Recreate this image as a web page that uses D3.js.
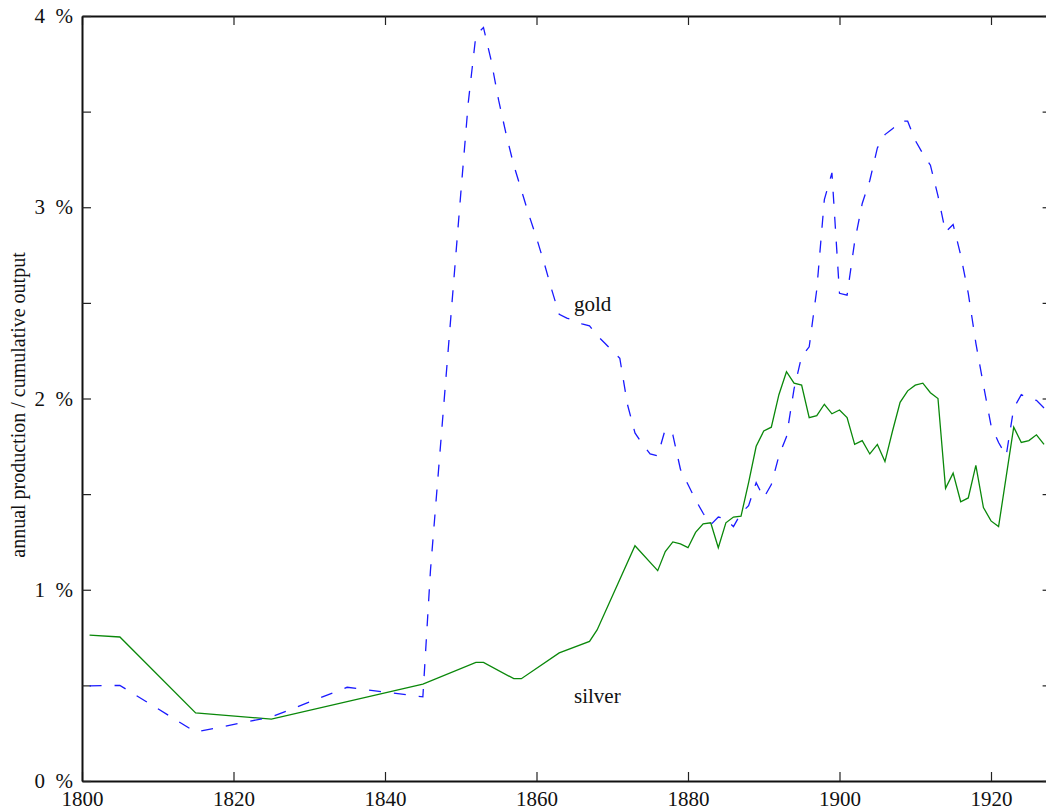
<!DOCTYPE html>
<html>
<head>
<meta charset="utf-8">
<script src="https://cdn.jsdelivr.net/npm/d3@7"></script>
<style>
  html, body { margin: 0; padding: 0; background: #fff; }
  svg { display: block; }
  text { font-family: "Liberation Serif", "Times New Roman", serif; fill: #111; }
</style>
</head>
<body>
<script>
const goldYears = [1801,1805,1815,1825,1835,1845,1846,1850,1851,1852,1853,1854,1855,1856,1857,1858,1859,1860,1861,1862,1863,1864,1865,1866,1867,1868,1869,1870,1871,1872,1873,1874,1875,1876,1877,1878,1879,1880,1881,1882,1883,1884,1885,1886,1887,1888,1889,1890,1891,1892,1893,1894,1895,1896,1897,1898,1899,1900,1901,1902,1903,1904,1905,1906,1907,1908,1909,1910,1911,1912,1913,1914,1915,1916,1917,1918,1919,1920,1921,1922,1923,1924,1925,1926,1927];
const goldValues = [0.497,0.50,0.256,0.335,0.49,0.44,1.10,3.07,3.55,3.90,3.94,3.77,3.56,3.38,3.22,3.09,2.96,2.84,2.71,2.57,2.44,2.42,2.41,2.39,2.38,2.33,2.29,2.25,2.21,1.97,1.82,1.76,1.71,1.70,1.84,1.81,1.63,1.55,1.47,1.40,1.34,1.38,1.37,1.33,1.40,1.44,1.56,1.48,1.55,1.70,1.80,2.05,2.22,2.27,2.57,3.04,3.18,2.55,2.54,2.82,3.02,3.14,3.31,3.38,3.41,3.45,3.45,3.35,3.28,3.22,3.06,2.87,2.91,2.75,2.55,2.29,2.07,1.86,1.77,1.70,1.95,2.02,2.00,1.99,1.95];

const silverYears = [1801,1805,1815,1825,1845,1852,1853,1857,1858,1863,1867,1868,1873,1876,1877,1878,1879,1880,1881,1882,1883,1884,1885,1886,1887,1888,1889,1890,1891,1892,1893,1894,1895,1896,1897,1898,1899,1900,1901,1902,1903,1904,1905,1906,1907,1908,1909,1910,1911,1912,1913,1914,1915,1916,1917,1918,1919,1920,1921,1922,1923,1924,1925,1926,1927];
const silverValues = [0.763,0.753,0.356,0.324,0.507,0.62,0.62,0.535,0.535,0.67,0.73,0.79,1.23,1.10,1.20,1.25,1.24,1.22,1.30,1.345,1.35,1.22,1.35,1.38,1.385,1.56,1.75,1.83,1.85,2.02,2.14,2.08,2.07,1.90,1.91,1.97,1.92,1.94,1.90,1.76,1.78,1.71,1.76,1.67,1.83,1.98,2.04,2.07,2.08,2.03,2.00,1.53,1.61,1.46,1.48,1.65,1.43,1.36,1.33,1.59,1.85,1.77,1.78,1.81,1.76];

const xTicks = [1800,1820,1840,1860,1880,1900,1920];
const yTicks = [0,0.5,1,1.5,2,2.5,3,3.5,4];
const yLabel = "annual production / cumulative output";
const seriesLabels = ["gold", "silver"];

const W = 1046, H = 812;
const svg = d3.select("body").append("svg").attr("width", W).attr("height", H);

const x = d3.scaleLinear().domain([1800, 1928]).range([82, 82 + 128 * 7.575]);
const y = d3.scaleLinear().domain([0, 4]).range([781, 16]);

const fmtY = d => Number.isInteger(d) ? d + "\u2002%" : "";

// axes
const gB = svg.append("g").attr("transform", `translate(0,${y(0)})`)
  .call(d3.axisBottom(x).tickValues(xTicks).tickFormat(d3.format("d")).tickSizeInner(-9).tickSizeOuter(0).tickPadding(10));
const gT = svg.append("g").attr("transform", `translate(0,${y(4)})`)
  .call(d3.axisTop(x).tickValues(xTicks).tickFormat("").tickSizeInner(-9).tickSizeOuter(0));
const gL = svg.append("g").attr("transform", `translate(${x(1800)},0)`)
  .call(d3.axisLeft(y).tickValues(yTicks).tickFormat(fmtY).tickSizeInner(-9).tickSizeOuter(0).tickPadding(9));
const gR = svg.append("g").attr("transform", `translate(${x(1928)},0)`)
  .call(d3.axisRight(y).tickValues(yTicks).tickFormat("").tickSizeInner(-9).tickSizeOuter(0));

[gB, gT, gL, gR].forEach(g => {
  g.select(".domain").attr("stroke", "#111").attr("stroke-width", 2);
  g.selectAll(".tick line").attr("stroke", "#222").attr("stroke-width", 1.2);
  g.selectAll(".tick text").attr("font-family", "'Liberation Serif', 'Times New Roman', serif").attr("font-size", 21).attr("fill", "#111");
});

// y label
svg.append("text")
  .attr("transform", `translate(25,${405}) rotate(-90)`)
  .attr("text-anchor", "middle")
  .attr("font-size", 20)
  .text(yLabel);

const line = d3.line().x(d => x(d[0])).y(d => y(d[1]));

const goldData = goldYears.map((yr, i) => [yr, goldValues[i]]);
const silverData = silverYears.map((yr, i) => [yr, silverValues[i]]);

svg.append("path").datum(silverData)
  .attr("d", line).attr("fill", "none")
  .attr("stroke", "#0a880a").attr("stroke-width", 1.3);

svg.append("path").datum(goldData)
  .attr("d", line).attr("fill", "none")
  .attr("stroke", "#1a1aff").attr("stroke-width", 1.3)
  .attr("stroke-dasharray", "12,13");

svg.append("text").attr("x", 574).attr("y", 311).attr("font-size", 21).text(seriesLabels[0]);
svg.append("text").attr("x", 574).attr("y", 703).attr("font-size", 21).text(seriesLabels[1]);
</script>
</body>
</html>
